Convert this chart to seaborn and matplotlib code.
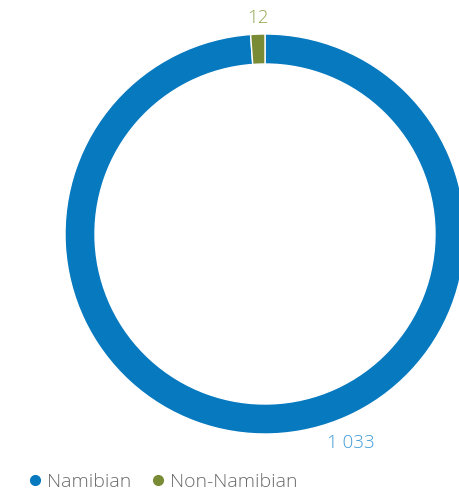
import matplotlib
matplotlib.use("Agg")
import matplotlib.pyplot as plt
from matplotlib.lines import Line2D
import seaborn as sns

categories = ["Namibian", "Non-Namibian"]
values = [1033, 12]
value_labels = ["1 033", "12"]

sns.set_theme(style="white")
plt.rcParams["font.family"] = ["Open Sans", "DejaVu Sans"]

colors = ["#0779BF", "#7A8B36"]
label_colors = ["#3F9BD6", "#93A651"]

W, H = 459, 494
fig = plt.figure(figsize=(W / 100, H / 100), dpi=100)
ax = fig.add_axes([0, 0, 1, 1])

cx, cy, R = 265, H - 234, 200
ax.pie(values, colors=colors, startangle=90, counterclock=False,
       center=(cx, cy), radius=R, frame=True,
       wedgeprops=dict(width=30, edgecolor="white", linewidth=1.0))
ax.set_xlim(0, W)
ax.set_ylim(0, H)
ax.set_aspect("equal")
ax.axis("off")

ax.text(351, H - 443, value_labels[0], color=label_colors[0], fontsize=13.5,
        fontweight="light", ha="center", va="center")
ax.text(258, H - 18, value_labels[1], color=label_colors[1], fontsize=13.5,
        fontweight="light", ha="center", va="center")

handles = [Line2D([], [], marker="o", linestyle="", markersize=7,
                  markerfacecolor=c, markeredgecolor=c) for c in colors]
leg = ax.legend(handles, categories, loc="center left", ncol=2,
                bbox_to_anchor=(8 / W, 1 - 482 / H), frameon=False,
                prop=dict(size=14, weight="light"), handletextpad=0.1,
                columnspacing=0.9, handlelength=1.0, labelcolor="#6A6A6A")

fig.savefig("out.png", dpi=100)
